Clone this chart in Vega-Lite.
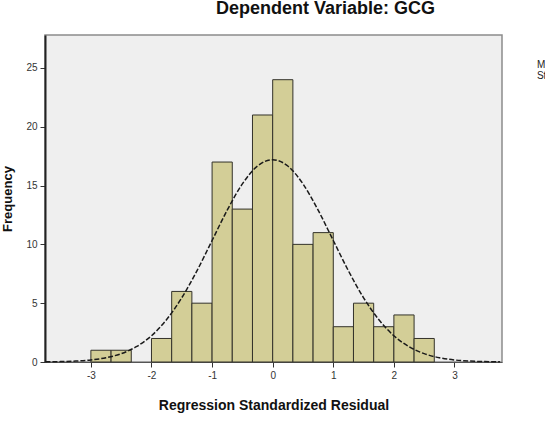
{
  "$schema": "https://vega.github.io/schema/vega-lite/v6.json",
  "width": 457,
  "height": 327,
  "autosize": {"type": "none"},
  "padding": {"left": 45, "top": 35, "right": 43, "bottom": 59},
  "background": "white",
  "config": {
    "font": "Liberation Sans",
    "view": {"fill": "#efefef", "stroke": "#8c8c8c", "strokeWidth": 1.5}
  },
  "title": {
    "text": "Dependent Variable: GCG",
    "font": "Liberation Sans",
    "fontSize": 18,
    "fontWeight": "bold",
    "color": "#111",
    "anchor": "middle",
    "dx": 52,
    "offset": 17
  },
  "datasets": {
    "bins": [
      {"lo": -3.0, "hi": -2.6667, "count": 1},
      {"lo": -2.6667, "hi": -2.3333, "count": 1},
      {"lo": -2.0, "hi": -1.6667, "count": 2},
      {"lo": -1.6667, "hi": -1.3333, "count": 6},
      {"lo": -1.3333, "hi": -1.0, "count": 5},
      {"lo": -1.0, "hi": -0.6667, "count": 17},
      {"lo": -0.6667, "hi": -0.3333, "count": 13},
      {"lo": -0.3333, "hi": 0.0, "count": 21},
      {"lo": 0.0, "hi": 0.3333, "count": 24},
      {"lo": 0.3333, "hi": 0.6667, "count": 10},
      {"lo": 0.6667, "hi": 1.0, "count": 11},
      {"lo": 1.0, "hi": 1.3333, "count": 3},
      {"lo": 1.3333, "hi": 1.6667, "count": 5},
      {"lo": 1.6667, "hi": 2.0, "count": 3},
      {"lo": 2.0, "hi": 2.3333, "count": 4},
      {"lo": 2.3333, "hi": 2.6667, "count": 2}
    ],
    "curve": [
      {"r": -3.75, "f": 0.013},
      {"r": -3.5, "f": 0.033},
      {"r": -3.25, "f": 0.079},
      {"r": -3.0, "f": 0.174},
      {"r": -2.75, "f": 0.363},
      {"r": -2.5, "f": 0.709},
      {"r": -2.25, "f": 1.30},
      {"r": -2.0, "f": 2.23},
      {"r": -1.75, "f": 3.61},
      {"r": -1.5, "f": 5.46},
      {"r": -1.25, "f": 7.75},
      {"r": -1.0, "f": 10.33},
      {"r": -0.75, "f": 12.91},
      {"r": -0.5, "f": 15.14},
      {"r": -0.25, "f": 16.66},
      {"r": 0.0, "f": 17.2},
      {"r": 0.25, "f": 16.66},
      {"r": 0.5, "f": 15.14},
      {"r": 0.75, "f": 12.91},
      {"r": 1.0, "f": 10.33},
      {"r": 1.25, "f": 7.75},
      {"r": 1.5, "f": 5.46},
      {"r": 1.75, "f": 3.61},
      {"r": 2.0, "f": 2.23},
      {"r": 2.25, "f": 1.30},
      {"r": 2.5, "f": 0.709},
      {"r": 2.75, "f": 0.363},
      {"r": 3.0, "f": 0.174},
      {"r": 3.25, "f": 0.079},
      {"r": 3.5, "f": 0.033},
      {"r": 3.75, "f": 0.013}
    ],
    "stats": [
      {"label": ["Mean = -1.24E-15", "Std. Dev. = 0.996"]}
    ]
  },
  "layer": [
    {
      "data": {"name": "bins"},
      "mark": {"type": "bar", "fill": "#d3ce97", "stroke": "#33322a", "strokeWidth": 1},
      "encoding": {
        "x": {
          "field": "lo",
          "type": "quantitative",
          "scale": {"domain": [-3.757, 3.784], "nice": false, "zero": false},
          "axis": {
            "values": [-3, -2, -1, 0, 1, 2, 3],
            "labelExpr": "'' + datum.value",
            "title": "Regression Standardized Residual",
            "titleFont": "Liberation Sans",
            "titleFontSize": 14,
            "titleFontWeight": "bold",
            "titleColor": "#111",
            "titlePadding": 18,
            "labelFont": "Liberation Sans",
            "labelFontSize": 10,
            "labelColor": "#333",
            "labelPadding": 3,
            "grid": false,
            "domainColor": "#555",
            "domainWidth": 1,
            "tickColor": "#333",
            "tickSize": 5
          }
        },
        "x2": {"field": "hi"},
        "y": {
          "field": "count",
          "type": "quantitative",
          "scale": {"domain": [0, 27.8], "nice": false},
          "axis": {
            "values": [0, 5, 10, 15, 20, 25],
            "labelExpr": "'' + datum.value",
            "title": "Frequency",
            "titleFont": "Liberation Sans",
            "titleFontSize": 13,
            "titleFontWeight": "bold",
            "titleColor": "#111",
            "titlePadding": 11,
            "labelFont": "Liberation Sans",
            "labelFontSize": 10,
            "labelColor": "#333",
            "labelPadding": 3,
            "grid": false,
            "domainColor": "#222",
            "domainWidth": 2,
            "tickColor": "#333",
            "tickSize": 5
          }
        },
        "y2": {"datum": 0}
      }
    },
    {
      "data": {"name": "curve"},
      "mark": {"type": "line", "color": "#1a1a1a", "strokeWidth": 1.5, "strokeDash": [5, 2], "interpolate": "monotone"},
      "encoding": {
        "x": {"field": "r", "type": "quantitative"},
        "y": {"field": "f", "type": "quantitative"}
      }
    },
    {
      "data": {"name": "stats"},
      "mark": {"type": "text", "align": "left", "baseline": "top", "fontSize": 10, "color": "#222", "lineHeight": 11},
      "encoding": {
        "x": {"datum": 4.36},
        "y": {"datum": 25.65},
        "text": {"field": "label"}
      }
    }
  ]
}
